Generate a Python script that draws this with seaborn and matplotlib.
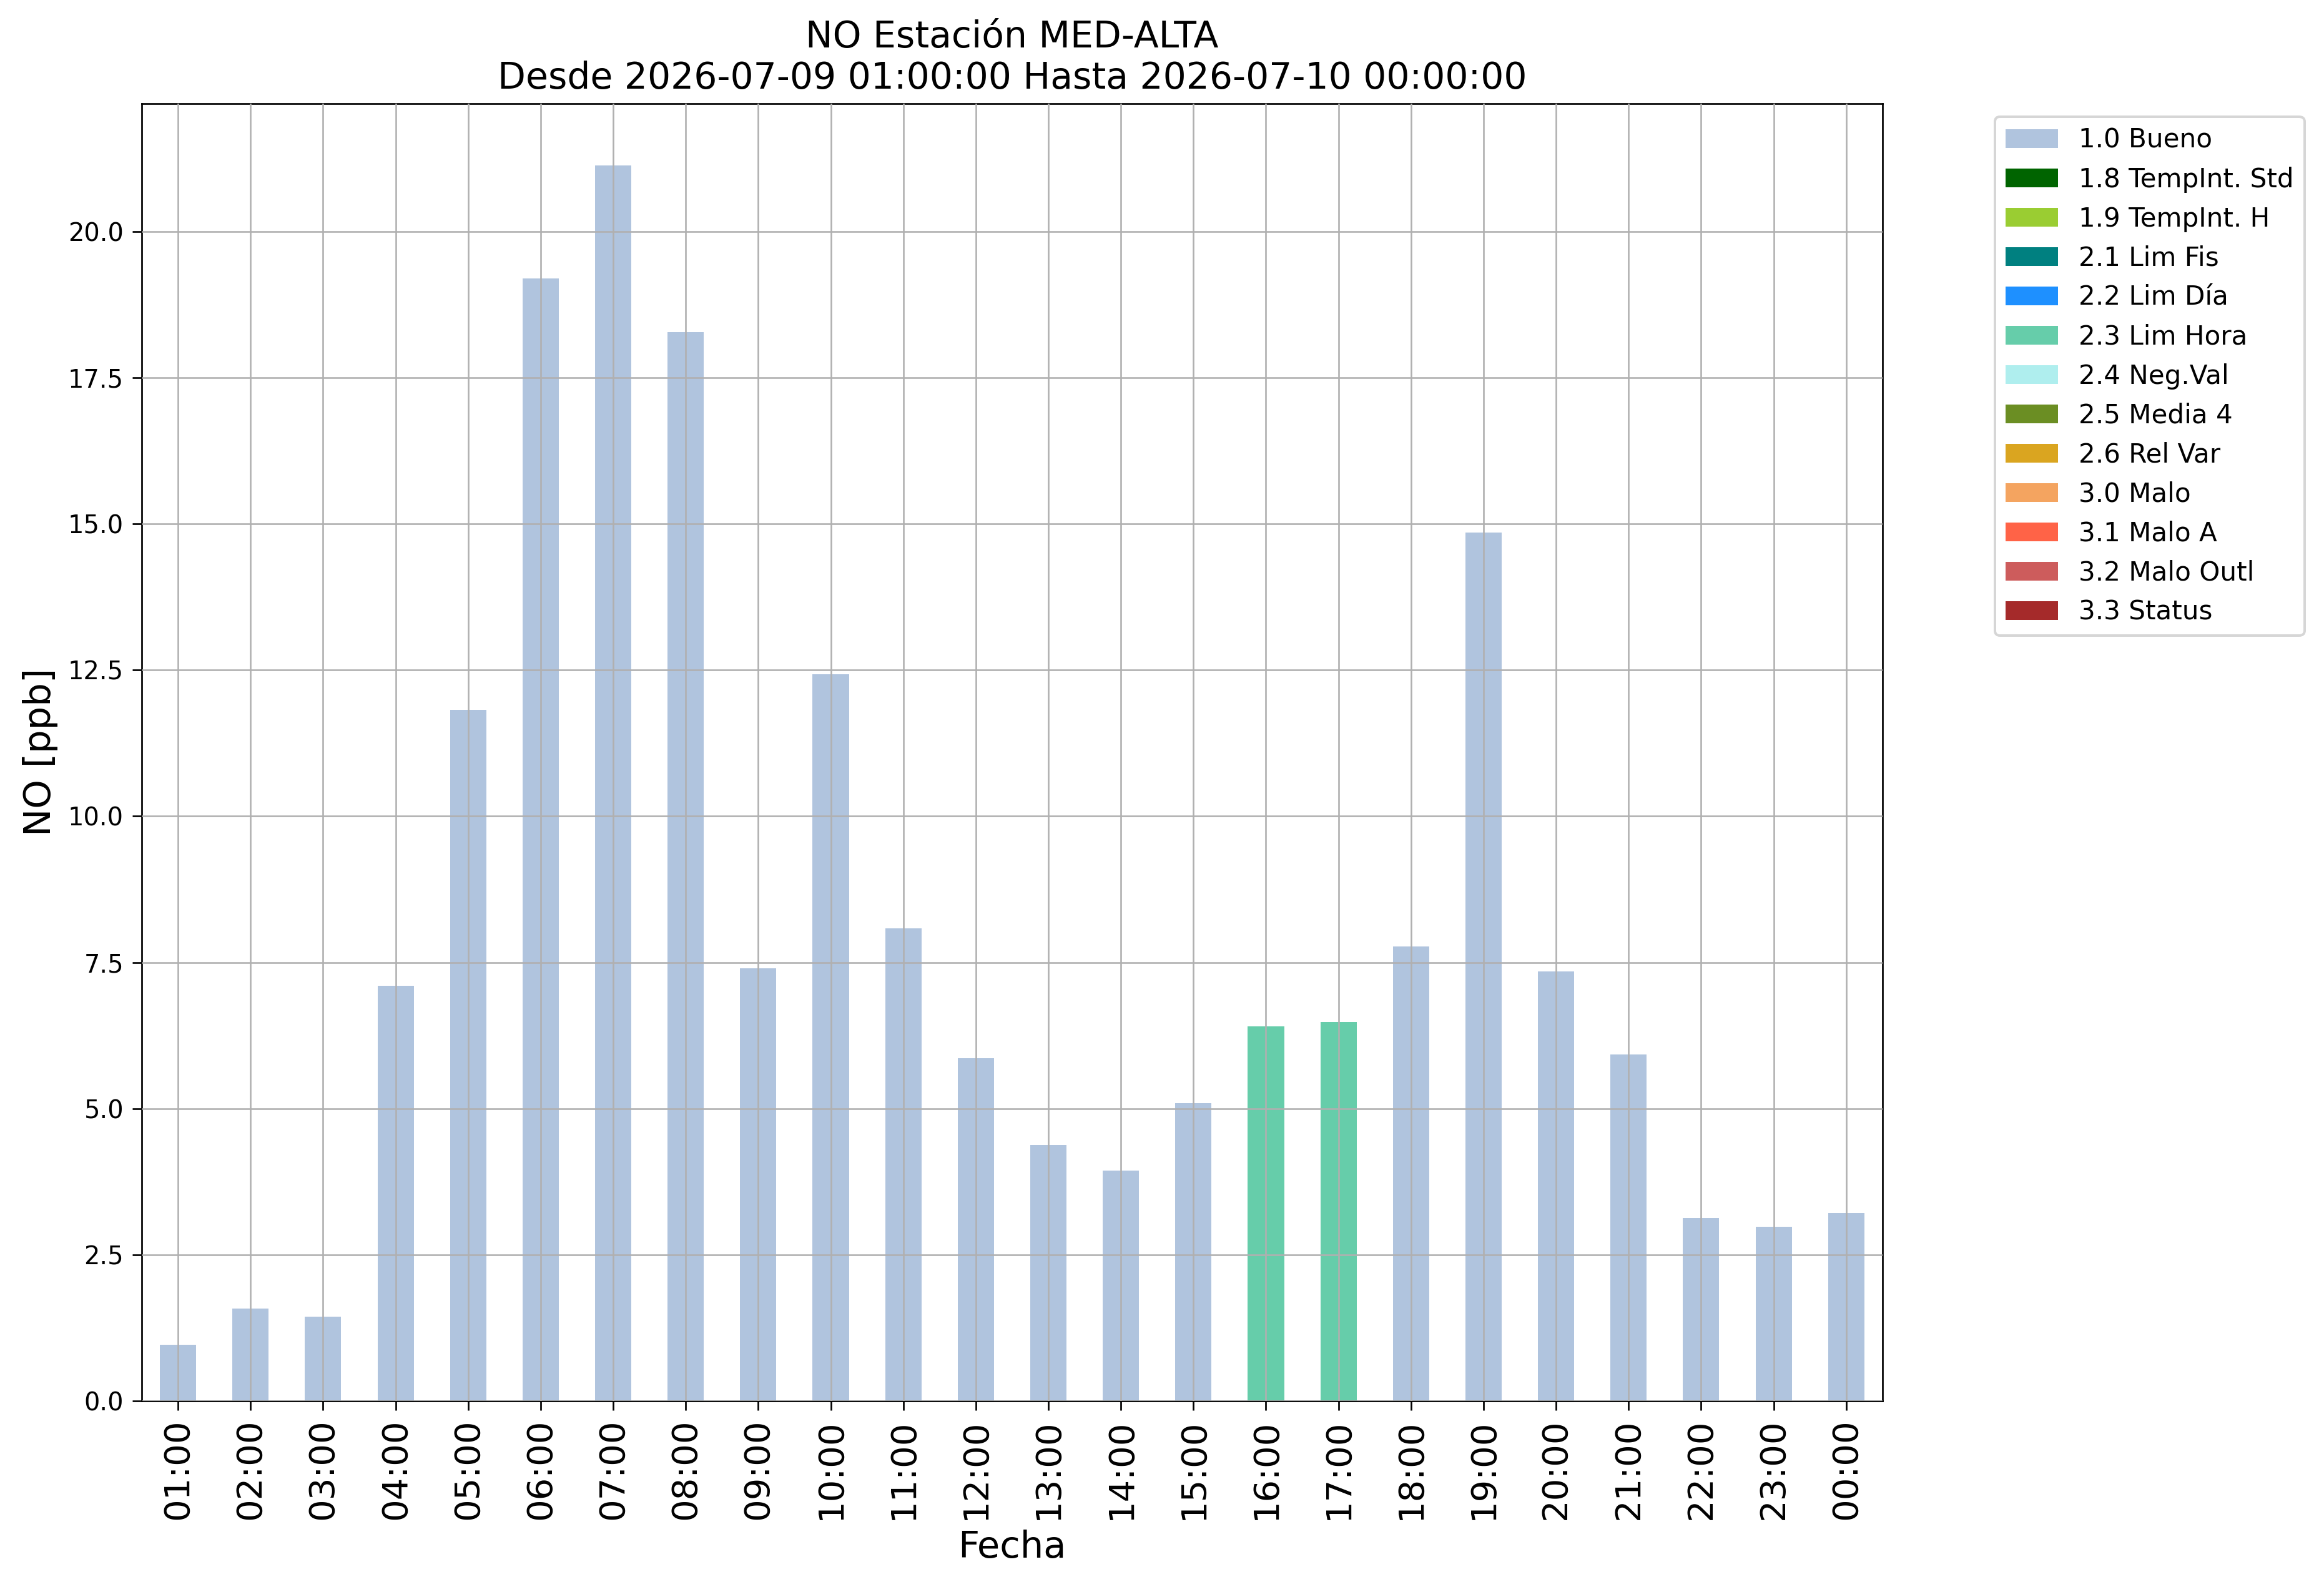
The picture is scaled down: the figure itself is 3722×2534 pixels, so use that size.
import matplotlib
matplotlib.use("Agg")
import matplotlib.pyplot as plt
from matplotlib.patches import Patch
import seaborn as sns
import pandas as pd

# hourly NO values and quality flag per hour
horas = ["01:00", "02:00", "03:00", "04:00", "05:00", "06:00", "07:00", "08:00",
         "09:00", "10:00", "11:00", "12:00", "13:00", "14:00", "15:00", "16:00",
         "17:00", "18:00", "19:00", "20:00", "21:00", "22:00", "23:00", "00:00"]
valores = [0.96, 1.58, 1.44, 7.10, 11.82, 19.20, 21.14, 18.28,
           7.40, 12.43, 8.08, 5.86, 4.38, 3.94, 5.09, 6.41,
           6.48, 7.77, 14.86, 7.34, 5.92, 3.13, 2.98, 3.21]
flags = ["1.0 Bueno", "1.0 Bueno", "1.0 Bueno", "1.0 Bueno", "1.0 Bueno", "1.0 Bueno",
         "1.0 Bueno", "1.0 Bueno", "1.0 Bueno", "1.0 Bueno", "1.0 Bueno", "1.0 Bueno",
         "1.0 Bueno", "1.0 Bueno", "1.0 Bueno", "2.3 Lim Hora", "2.3 Lim Hora", "1.0 Bueno",
         "1.0 Bueno", "1.0 Bueno", "1.0 Bueno", "1.0 Bueno", "1.0 Bueno", "1.0 Bueno"]

etiquetas = ["1.0 Bueno", "1.8 TempInt. Std", "1.9 TempInt. H", "2.1 Lim Fis",
             "2.2 Lim Día", "2.3 Lim Hora", "2.4 Neg.Val", "2.5 Media 4",
             "2.6 Rel Var", "3.0 Malo", "3.1 Malo A", "3.2 Malo Outl", "3.3 Status"]
colores = ["lightsteelblue", "darkgreen", "yellowgreen", "teal",
           "dodgerblue", "mediumaquamarine", "paleturquoise", "olivedrab",
           "goldenrod", "sandybrown", "tomato", "indianred", "brown"]

df = pd.DataFrame({"hora": horas, "valor": valores, "flag": flags})
paleta = dict(zip(etiquetas, colores))

fig = plt.figure(figsize=(3722 / 288, 2534 / 288), dpi=288)
ax = fig.add_axes([0.061, 0.1146, 0.749, 0.82])

sns.barplot(data=df, x="hora", y="valor", hue="flag", order=horas,
            palette=paleta, dodge=False, width=0.5, saturation=1,
            errorbar=None, legend=False, linewidth=0, ax=ax)

# grid over the bars, like the original
ax.set_axisbelow(False)
ax.grid(True, color="#b0b0b0", linewidth=0.65)
for s in ax.spines.values():
    s.set_linewidth(0.67)
ax.tick_params(axis="both", length=3.75, width=0.67)
ax.tick_params(axis="x", labelsize=14, labelrotation=90)
ax.tick_params(axis="y", labelsize=10)

ax.set_xlabel("Fecha", fontsize=14.8)
ax.set_ylabel("NO [ppb]", fontsize=14.8)
ax.set_title("NO Estación MED-ALTA\nDesde 2026-07-09 01:00:00 Hasta 2026-07-10 00:00:00",
             fontsize=14.6)

handles = [Patch(facecolor=c, label=l) for l, c in zip(etiquetas, colores)]
ax.legend(handles=handles, bbox_to_anchor=(1.057, 1.0), loc="upper left", fontsize=10.5)

fig.savefig("out.png", dpi=288)
